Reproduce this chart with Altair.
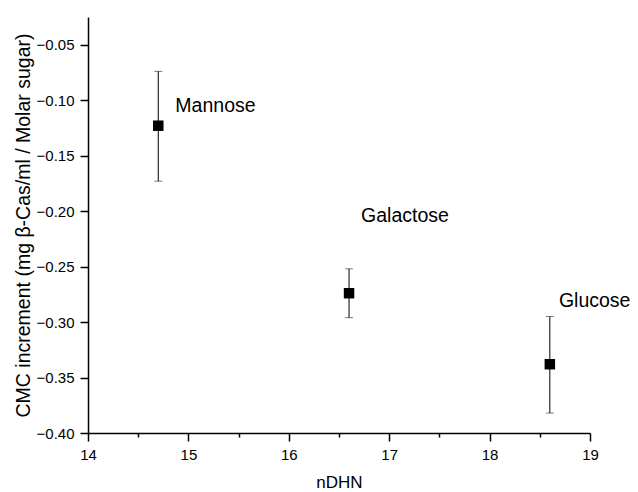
import altair as alt
import pandas as pd

names = ["Mannose", "Galactose", "Glucose"]
ndhn = [14.7, 16.6, 18.6]
cmc = [-0.123, -0.274, -0.338]
err_low = [-0.173, -0.296, -0.382]
err_high = [-0.074, -0.252, -0.295]
label_x = [14.87, 16.72, 18.69]
label_y = [-0.105, -0.204, -0.281]

x_ticks = [14, 14.5, 15, 15.5, 16, 16.5, 17, 17.5, 18, 18.5, 19]
y_ticks = [-0.40, -0.375, -0.35, -0.325, -0.30, -0.275, -0.25, -0.225, -0.20, -0.175,
           -0.15, -0.125, -0.10, -0.075, -0.05, -0.025]

df = pd.DataFrame({"name": names, "x": ndhn, "y": cmc, "lo": err_low, "hi": err_high,
                   "lx": label_x, "ly": label_y})

FONT = "Liberation Sans"
XTITLE = "nDHN"
YTITLE = "CMC increment (mg β-Cas/ml  / Molar sugar)"
xscale = alt.Scale(domain=[14, 19], nice=False, zero=False)
yscale = alt.Scale(domain=[-0.40, -0.025], nice=False, zero=False)

x_major = "abs(datum.value - round(datum.value)) < 0.01"
y_major = "abs(datum.value * 20 - round(datum.value * 20)) < 0.01"

xaxis = alt.Axis(values=x_ticks,
                 labelExpr=f"{x_major} ? format(datum.value, 'd') : ''",
                 tickSize=alt.expr(f"{x_major} ? 8 : 4"),
                 tickColor="black", domainColor="black", domainWidth=1.5, tickWidth=1.5, grid=False,
                 labelFont=FONT, labelFontSize=15, labelColor="black", labelPadding=6,
                 labelFlush=False, labelOverlap=False,
                 titleFont=FONT, titleFontSize=17, titleFontWeight="normal", titleColor="black",
                 titlePadding=12)
yaxis = alt.Axis(values=y_ticks,
                 labelExpr=f"{y_major} ? format(datum.value, '.2f') : ''",
                 tickSize=alt.expr(f"{y_major} ? 8 : 4"),
                 tickColor="black", domainColor="black", domainWidth=1.5, tickWidth=1.5,
                 grid=False, labelFont=FONT, labelFontSize=15, labelColor="black", labelPadding=6,
                 labelFlush=False, labelOverlap=False,
                 titleFont=FONT, titleFontSize=19.5, titleFontWeight="normal", titleColor="black",
                 titlePadding=3)

base = alt.Chart(df)

points = base.mark_square(size=110, color="black", opacity=1, filled=True).encode(
    x=alt.X("x:Q", scale=xscale, axis=xaxis, title=XTITLE),
    y=alt.Y("y:Q", scale=yscale, axis=yaxis, title=YTITLE),
)

bars = base.mark_errorbar(ticks=alt.TickConfig(thickness=1, color="#444444", size=8),
                          thickness=1, color="black").encode(
    x=alt.X("x:Q", scale=xscale, title=XTITLE),
    y=alt.Y("lo:Q", scale=yscale, title=YTITLE),
    y2="hi:Q",
)

labels = base.mark_text(align="left", baseline="middle", font=FONT, fontSize=19.5, color="black").encode(
    x=alt.X("lx:Q", scale=xscale, title=XTITLE),
    y=alt.Y("ly:Q", scale=yscale, title=YTITLE),
    text="name:N",
)

chart = alt.layer(points, bars, labels).properties(
    width=502, height=416,
    background="white",
    autosize=alt.AutoSizeParams(type="none"),
    padding={"left": 80, "top": 9, "right": 40, "bottom": 59},
).configure_view(stroke=None)

chart.save("out.html", embed_options={"renderer": "svg", "actions": False})
